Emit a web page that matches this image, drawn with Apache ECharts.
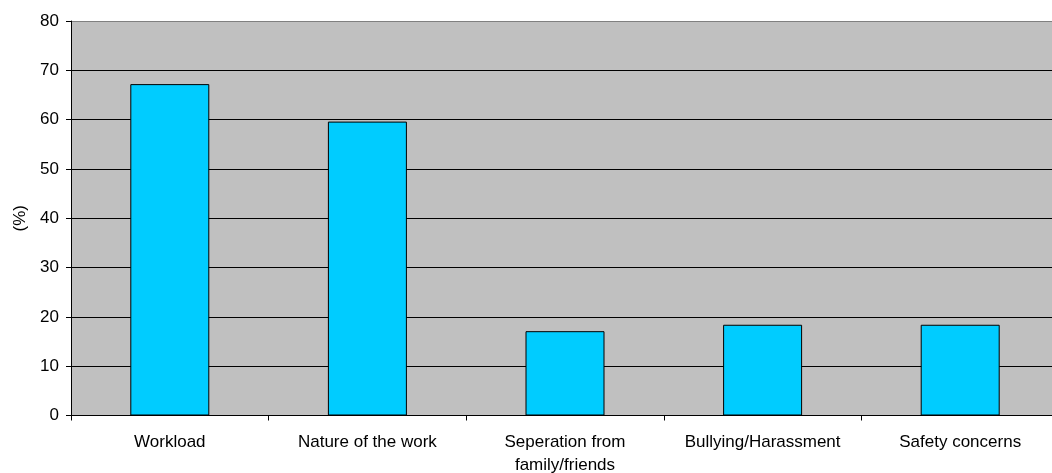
<!DOCTYPE html>
<html>
<head>
<meta charset="utf-8">
<script src="https://cdn.jsdelivr.net/npm/echarts@6/dist/echarts.min.js"></script>
<style>
html,body{margin:0;padding:0;background:#fff;}
#chart{width:1052px;height:473px;}
</style>
</head>
<body>
<div id="chart"></div>
<script>
const categories = ["Workload", "Nature of the work", "Seperation from\nfamily/friends", "Bullying/Harassment", "Safety concerns"];
const values = [67.2, 59.6, 17.1, 18.4, 18.4];
const yTicks = { min: 0, max: 80, interval: 10 };
const yName = "(%)";

const chart = echarts.init(document.getElementById('chart'), null, { renderer: 'canvas' });
const font = 'Liberation Sans, Arial, sans-serif';
chart.setOption({
  animation: false,
  backgroundColor: '#fff',
  grid: { left: 71, top: 21, width: 988, height: 394.5, show: true, backgroundColor: '#C0C0C0', borderWidth: 0, containLabel: false, outerBoundsMode: 'none' },
  xAxis: {
    type: 'category',
    data: categories,
    axisLine: { lineStyle: { color: '#000', width: 1 } },
    axisTick: { show: true, length: 5, alignWithLabel: false, lineStyle: { color: '#000' } },
    axisLabel: { color: '#000', fontFamily: font, fontSize: 17, margin: 15, lineHeight: 23, interval: 0 },
    splitLine: { show: false }
  },
  yAxis: {
    type: 'value',
    min: yTicks.min, max: yTicks.max, interval: yTicks.interval,
    name: yName,
    nameLocation: 'middle',
    nameGap: 41,
    nameTextStyle: { color: '#000', fontFamily: font, fontSize: 17 },
    axisLine: { show: true, lineStyle: { color: '#000', width: 1 } },
    axisTick: { show: true, length: 5, lineStyle: { color: '#000' } },
    axisLabel: { color: '#000', fontFamily: font, fontSize: 17, margin: 12 },
    splitLine: { show: true, lineStyle: { color: ['#000','#000','#000','#000','#000','#000','#000','#000','#808080'], width: 1 } }
  },
  series: [{
    type: 'bar',
    data: values,
    barWidth: 79,
    itemStyle: { color: '#00CCFF', borderColor: '#000', borderWidth: 1 }
  }]
});
</script>
</body>
</html>
